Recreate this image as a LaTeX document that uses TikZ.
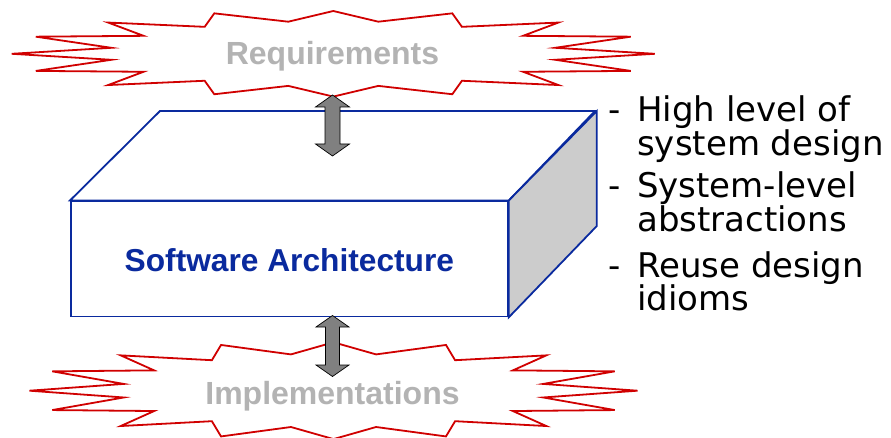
\documentclass[tikz,border=0pt]{standalone}
\usepackage{fontspec}
\setmainfont{Liberation Sans}
\newfontfamily\notefont{DejaVu Sans}
\usetikzlibrary{calc}

\definecolor{burstred}{HTML}{D00000}
\definecolor{archblue}{HTML}{0A2A9E}
\definecolor{fadedgray}{HTML}{B3B3B3}
\definecolor{sidegray}{HTML}{CCCCCC}
\definecolor{arrowgray}{HTML}{808080}

% one bullet note: dash column, then two lines of text
\newcommand{\noteitem}[2]{%
  \begin{tabular}[t]{@{}p{29pt}@{}l@{}}-&#1\\&#2\end{tabular}}

\tikzset{
  burstline/.style={draw=burstred, fill=white, line width=1.8pt, line join=miter},
  fadedtext/.style={font=\fontsize{32}{38}\selectfont\bfseries, text=fadedgray, inner sep=0pt, anchor=base},
  archtext/.style={font=\fontsize{31.7}{38}\selectfont\bfseries, text=archblue},
  boxline/.style={draw=archblue, line width=1.8pt, line join=miter},
  twoway/.style={draw=black, fill=arrowgray, line width=0.7pt, line join=miter},
  notetext/.style={font=\notefont\fontsize{34}{26}\selectfont, inner sep=0pt, anchor=base west},
  burst/.pic={
    \path[burstline]
      (-1,0) -- (-0.69,-0.14) -- (-0.925,-0.40) -- (-0.59,-0.42) -- (-0.70,-0.73)
      -- (-0.40,-0.63) -- (-0.37,-0.945) -- (-0.14,-0.75) -- (0,-1)
      -- (0.14,-0.75) -- (0.37,-0.945) -- (0.40,-0.63) -- (0.70,-0.73)
      -- (0.59,-0.42) -- (0.925,-0.40) -- (0.69,-0.14) -- (1,0)
      -- (0.69,0.14) -- (0.925,0.40) -- (0.59,0.42) -- (0.70,0.73)
      -- (0.40,0.63) -- (0.37,0.945) -- (0.14,0.75) -- (0,1)
      -- (-0.14,0.75) -- (-0.37,0.945) -- (-0.40,0.63) -- (-0.70,0.73)
      -- (-0.59,0.42) -- (-0.925,0.40) -- (-0.69,0.14) -- cycle;
  }
}

\begin{document}
\begin{tikzpicture}[x=1pt,y=-1pt]
  \useasboundingbox (0,0) rectangle (891,438);

  % exploding clouds around the two outer layers
  \path (333.3,53.8) pic[xscale=321.6,yscale=42.8] {burst};
  \path (333.5,390.7) pic[xscale=304,yscale=48.4] {burst};
  \node[fadedtext] (req) at (332.5,65) {Requirements};
  \node[fadedtext] (impl) at (332.5,404) {Implementations};

  % the architecture block: front face, top face, shaded side
  \node[boxline, fill=white, minimum width=437pt, minimum height=115pt,
        inner sep=0pt, anchor=north west] (arch) at (70,200.5) {};
  \path[boxline, fill=white] (arch.north west) -- ++(90,-89.5) -- ++(435,0)
        -- (arch.north east) -- cycle;
  \path[boxline, fill=sidegray] (arch.north east) -- ++(88,-89.5) -- ++(0,115)
        -- (arch.south east) -- cycle;
  \node[archtext] (archlabel) at ($(arch.center)+(0,1)$) {Software Architecture};

  % two-way arrows between the layers
  \coordinate (uptip) at (332.5,95);
  \coordinate (lowtip) at (332.5,315.5);
  \path[twoway] (uptip) -- ++(17,12) -- ++(-9.5,0) -- ++(0,37) -- ++(9.5,0)
        -- ++(-17,12) -- ++(-17,-12) -- ++(9.5,0) -- ++(0,-37) -- ++(-9.5,0) -- cycle;
  \path[twoway] (lowtip) -- ++(16.5,11.5) -- ++(-9.5,0) -- ++(0,38) -- ++(9.5,0)
        -- ++(-16.5,11.5) -- ++(-16.5,-11.5) -- ++(9.5,0) -- ++(0,-38) -- ++(-9.5,0) -- cycle;

  % notes on the right
  \node[notetext] (note1) at (608,122) {\noteitem{High level of}{system design}};
  \node[notetext] (note2) at (608,198) {\noteitem{System-level}{abstractions}};
  \node[notetext] (note3) at (608,277) {\noteitem{Reuse design}{idioms}};
\end{tikzpicture}
\end{document}
